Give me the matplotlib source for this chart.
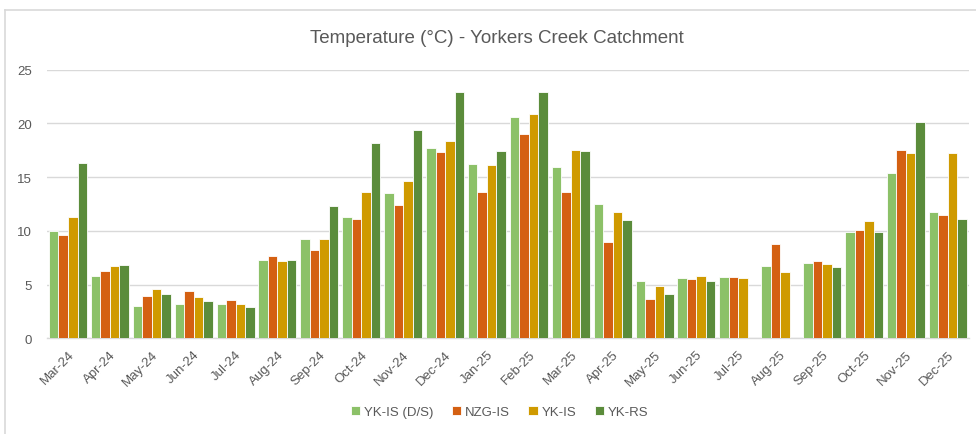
import matplotlib.pyplot as plt
import matplotlib as mpl
import numpy as np
from matplotlib.lines import Line2D

mpl.rcParams['font.family'] = ['Liberation Sans Narrow', 'Liberation Sans', 'DejaVu Sans']

months = ["Mar-24", "Apr-24", "May-24", "Jun-24", "Jul-24", "Aug-24", "Sep-24", "Oct-24",
          "Nov-24", "Dec-24", "Jan-25", "Feb-25", "Mar-25", "Apr-25", "May-25", "Jun-25",
          "Jul-25", "Aug-25", "Sep-25", "Oct-25", "Nov-25", "Dec-25"]

yk_is_ds = [10.0, 5.8, 3.0, 3.2, 3.2, 7.3, 9.2, 11.3, 13.5, 17.7, 16.2, 20.6,
            15.9, 12.5, 5.3, 5.6, 5.7, 6.7, 7.0, 9.9, 15.4, 11.8]
nzg_is = [9.6, 6.3, 3.9, 4.4, 3.6, 7.7, 8.2, 11.1, 12.4, 17.3, 13.6, 19.0,
          13.6, 9.0, 3.7, 5.5, 5.7, 8.8, 7.2, 10.1, 17.5, 11.5]
yk_is = [11.3, 6.7, 4.6, 3.8, 3.2, 7.2, 9.2, 13.6, 14.6, 18.4, 16.1, 20.9,
         17.5, 11.8, 4.9, 5.8, 5.6, 6.2, 6.9, 10.9, 17.2, 17.2]
yk_rs = [16.3, 6.8, 4.1, 3.5, 2.9, 7.3, 12.3, 18.2, 19.4, 22.9, 17.4, 22.9,
         17.4, 11.0, 4.1, 5.3, np.nan, np.nan, 6.6, 9.9, 20.1, 11.1]

series = [("YK-IS (D/S)", yk_is_ds, "#8CC168"),
          ("NZG-IS", nzg_is, "#D46012"),
          ("YK-IS", yk_is, "#CF9A00"),
          ("YK-RS", yk_rs, "#5B8C3B")]

txt = "#595959"
grid = "#D9D9D9"

fig = plt.figure(figsize=(9.76, 4.35), dpi=100)
ax = fig.add_axes([0.0482, 0.22, 0.9444, 0.6175])

x = np.arange(len(months))
w = 0.227
for i, (name, vals, col) in enumerate(series):
    ax.bar(x + (i - 1.5) * w, vals, w, color=col, edgecolor="white",
           linewidth=0.6, label=name, zorder=3)

ax.set_xlim(-0.5, len(months) - 0.5)
ax.set_ylim(0, 25)
ax.set_yticks([0, 5, 10, 15, 20, 25])
ax.yaxis.grid(True, color=grid, linewidth=1, zorder=0)
ax.set_axisbelow(True)
for s in ["top", "right", "left"]:
    ax.spines[s].set_visible(False)
ax.spines["bottom"].set_color(grid)
ax.spines["bottom"].set_linewidth(1)
ax.tick_params(axis="both", length=0, colors=txt, labelsize=9.5)
ax.tick_params(axis="y", pad=11)
ax.set_xticks(x)
ax.set_xticklabels(months, rotation=45, ha="right", rotation_mode="anchor")
ax.tick_params(axis="x", pad=7)

fig.text(0.509, 0.912, "Temperature (°C) - Yorkers Creek Catchment",
         ha="center", va="center", color=txt, fontsize=13.5)

ax.legend(loc="center", bbox_to_anchor=(0.512, 0.05), bbox_transform=fig.transFigure,
          ncol=4, frameon=False, fontsize=9.5, labelcolor=txt,
          handlelength=0.7, handleheight=0.7, handletextpad=0.3, columnspacing=1.4)

# chart border (top and left visible)
fig.add_artist(Line2D([5 / 976, 1], [1 - 11 / 435, 1 - 11 / 435], color=grid, lw=1.2,
                      transform=fig.transFigure))
fig.add_artist(Line2D([5 / 976, 5 / 976], [0, 1 - 11 / 435], color=grid, lw=1.2,
                      transform=fig.transFigure))

fig.savefig("out.png", dpi=100, facecolor="white")
